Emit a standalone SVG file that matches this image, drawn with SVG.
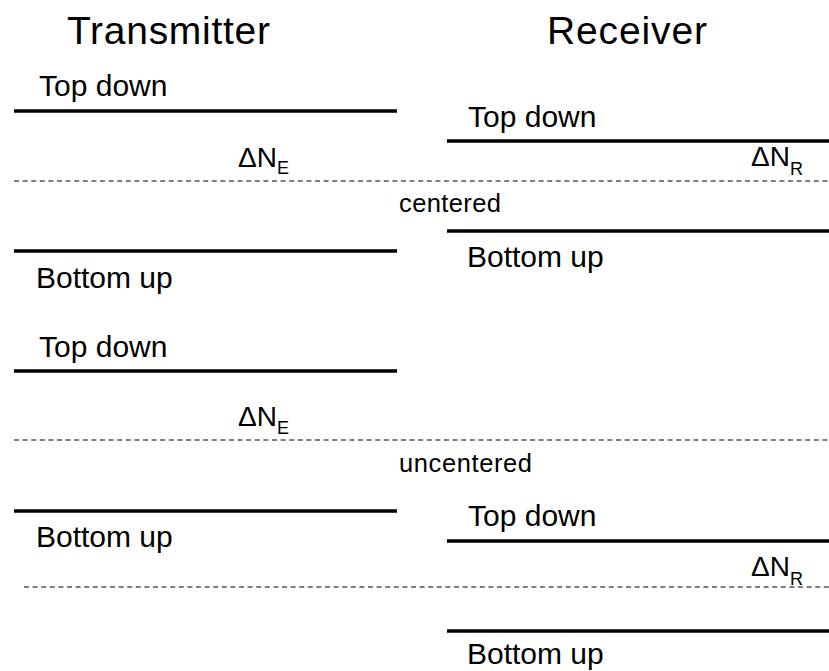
<svg xmlns="http://www.w3.org/2000/svg" width="829" height="671" viewBox="0 0 829 671">
<style>
text{font-family:"Liberation Sans",Arial,sans-serif;fill:#000}
.title{font-size:39px}
.lbl{font-size:30px}
.mid{font-size:25.5px}
.dn{font-size:28px}
.sub{font-size:18px}
.lvl{stroke:#000;stroke-width:3.5;fill:none}
.dash{stroke:#000;stroke-width:1.2;stroke-dasharray:5 3.6;fill:none}
</style>
<rect width="829" height="671" fill="#fff"/>
<g id="titles">
<text class="title" x="67" y="44" textLength="203" lengthAdjust="spacing">Transmitter</text>
<text class="title" x="547" y="44" textLength="160" lengthAdjust="spacing">Receiver</text>
</g>
<g id="connectors">
<line class="dash" x1="14" y1="181" x2="829" y2="181"/>
<line class="dash" x1="14" y1="440" x2="829" y2="440"/>
<line class="dash" x1="24" y1="587" x2="829" y2="587"/>
</g>
<g id="tx-centered-top">
<text class="lbl" x="39" y="96">Top down</text>
<line class="lvl" x1="14" y1="111" x2="397" y2="111"/>
</g>
<g id="tx-centered-gap">
<text class="dn" x="238" y="167">ΔN<tspan class="sub" dy="7">E</tspan></text>
</g>
<g id="tx-centered-bottom">
<line class="lvl" x1="14" y1="251" x2="397" y2="251"/>
<text class="lbl" x="36" y="288">Bottom up</text>
</g>
<g id="rx-centered-top">
<text class="lbl" x="468" y="127">Top down</text>
<line class="lvl" x1="447" y1="141" x2="829" y2="141"/>
</g>
<g id="rx-centered-gap">
<text class="dn" x="751" y="166">ΔN<tspan class="sub" dy="9">R</tspan></text>
</g>
<g id="rx-centered-bottom">
<line class="lvl" x1="447" y1="231" x2="829" y2="231"/>
<text class="lbl" x="467" y="267">Bottom up</text>
</g>
<g id="label-centered">
<text class="mid" x="399" y="212" textLength="102" lengthAdjust="spacing">centered</text>
</g>
<g id="tx-uncentered-top">
<text class="lbl" x="39" y="357">Top down</text>
<line class="lvl" x1="14" y1="371" x2="397" y2="371"/>
</g>
<g id="tx-uncentered-gap">
<text class="dn" x="238" y="426">ΔN<tspan class="sub" dy="8">E</tspan></text>
</g>
<g id="tx-uncentered-bottom">
<line class="lvl" x1="14" y1="511" x2="397" y2="511"/>
<text class="lbl" x="36" y="547">Bottom up</text>
</g>
<g id="label-uncentered">
<text class="mid" x="399" y="472" textLength="133" lengthAdjust="spacing">uncentered</text>
</g>
<g id="rx-uncentered-top">
<text class="lbl" x="468" y="526">Top down</text>
<line class="lvl" x1="447" y1="541" x2="829" y2="541"/>
</g>
<g id="rx-uncentered-gap">
<text class="dn" x="751" y="576">ΔN<tspan class="sub" dy="9">R</tspan></text>
</g>
<g id="rx-uncentered-bottom">
<line class="lvl" x1="447" y1="631" x2="829" y2="631"/>
<text class="lbl" x="467" y="664">Bottom up</text>
</g>
</svg>
